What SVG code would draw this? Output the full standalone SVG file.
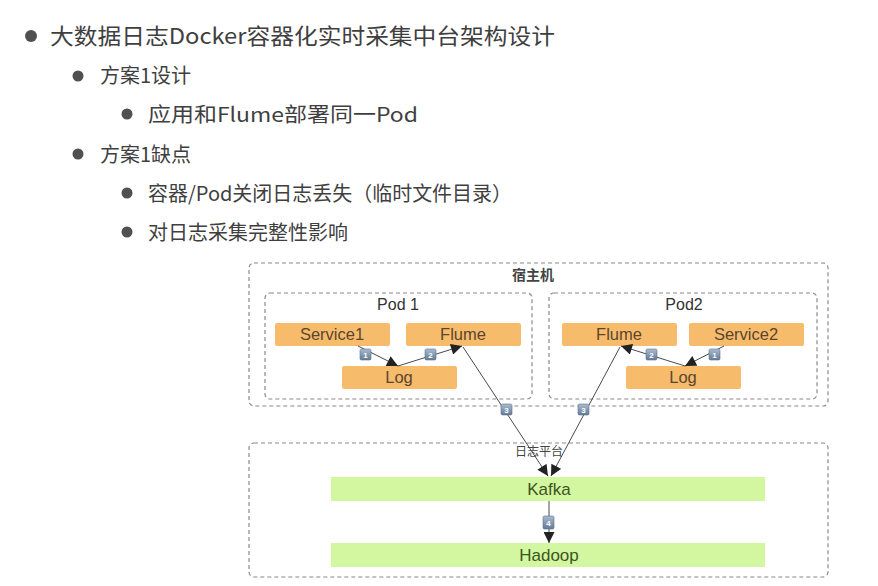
<svg xmlns="http://www.w3.org/2000/svg" width="878" height="586" viewBox="0 0 878 586">
<defs>
<style>
.t{font-family:"Noto Sans CJK SC","Noto Sans",sans-serif;fill:#3f3f3f}
.b{fill:#505050}
.grp{fill:none;stroke:#8a8a8a;stroke-width:1.2;stroke-dasharray:4 3}
.or{fill:#f7bb6c}
.gr{fill:#d3f7a1}
.ot{font-family:"Liberation Sans",Arial,sans-serif;font-size:16.5px;fill:#5a4630;text-anchor:middle}
.gt{font-family:"Liberation Sans",Arial,sans-serif;font-size:17px;fill:#3d5520;text-anchor:middle}
.pt{font-family:"Liberation Sans",Arial,sans-serif;font-size:16px;fill:#333;text-anchor:middle}
.lbl{font-family:"Noto Sans CJK SC","Liberation Sans",sans-serif;fill:#444;text-anchor:middle}
.ln{stroke:#4a4a4a;stroke-width:1;fill:none}
.bd{fill:url(#bg);stroke:#5d7188;stroke-width:0.6}
.bn{font-family:"Liberation Sans",Arial,sans-serif;font-size:8px;fill:#fff;text-anchor:middle;font-weight:bold}
</style>
<linearGradient id="bg" x1="0" y1="0" x2="0" y2="1">
<stop offset="0" stop-color="#a9bbcf"/>
<stop offset="1" stop-color="#647c98"/>
</linearGradient>
<marker id="ah" viewBox="0 0 10 10" refX="10" refY="5" markerWidth="12" markerHeight="11" markerUnits="userSpaceOnUse" orient="auto">
<path d="M0,0 L10,5 L0,10 z" fill="#222"/>
</marker>
</defs>
<rect width="878" height="586" fill="#ffffff"/>

<g id="bullets">
<circle class="b" cx="31" cy="36" r="6"/>
<text class="t" x="50" y="44" font-size="22" textLength="505" lengthAdjust="spacingAndGlyphs">大数据日志Docker容器化实时采集中台架构设计</text>
<circle class="b" cx="78" cy="76" r="5.5"/>
<text class="t" x="100" y="83" font-size="20">方案1设计</text>
<circle class="b" cx="127" cy="114" r="5.5"/>
<text class="t" x="148" y="122" font-size="20" textLength="270" lengthAdjust="spacingAndGlyphs">应用和Flume部署同一Pod</text>
<circle class="b" cx="78" cy="154" r="5.5"/>
<text class="t" x="100" y="162" font-size="20">方案1缺点</text>
<circle class="b" cx="127" cy="193" r="5.5"/>
<text class="t" x="148" y="201" font-size="20" textLength="364" lengthAdjust="spacingAndGlyphs">容器/Pod关闭日志丢失（临时文件目录）</text>
<circle class="b" cx="127" cy="232" r="5.5"/>
<text class="t" x="148" y="240" font-size="20">对日志采集完整性影响</text>
</g>

<g id="host">
<rect class="grp" x="249" y="263" width="579" height="143" rx="5"/>
<text class="lbl" x="533" y="280" font-size="14" font-weight="bold">宿主机</text>
</g>
<g id="pod1">
<rect class="grp" x="265" y="293" width="267" height="106" rx="5"/>
<text class="pt" x="398" y="310">Pod 1</text>
</g>
<g id="pod2">
<rect class="grp" x="549" y="293" width="268" height="106" rx="5"/>
<text class="pt" x="684" y="310">Pod2</text>
</g>
<g id="platform">
<rect class="grp" x="249" y="443" width="579" height="134" rx="5"/>
<text class="lbl" x="539" y="456" font-size="12">日志平台</text>
</g>

<g id="service1"><rect class="or" x="275" y="323" width="115" height="23" rx="2"/><text class="ot" x="332" y="340">Service1</text></g>
<g id="flume1"><rect class="or" x="406" y="323" width="115" height="23" rx="2"/><text class="ot" x="463" y="340">Flume</text></g>
<g id="log1"><rect class="or" x="342" y="366" width="115" height="23" rx="2"/><text class="ot" x="399" y="383">Log</text></g>
<g id="flume2"><rect class="or" x="562" y="323" width="115" height="23" rx="2"/><text class="ot" x="619" y="340">Flume</text></g>
<g id="service2"><rect class="or" x="689" y="323" width="115" height="23" rx="2"/><text class="ot" x="746" y="340">Service2</text></g>
<g id="log2"><rect class="or" x="626" y="366" width="115" height="23" rx="2"/><text class="ot" x="683" y="383">Log</text></g>
<g id="kafka"><rect class="gr" x="331" y="477" width="434" height="24"/><text class="gt" x="549" y="495">Kafka</text></g>
<g id="hadoop"><rect class="gr" x="331" y="543" width="434" height="24"/><text class="gt" x="549" y="561">Hadoop</text></g>

<g id="connectors">
<path class="ln" d="M358,346 L398,366" marker-end="url(#ah)"/>
<path class="ln" d="M398,366 L462,346" marker-end="url(#ah)"/>
<path class="ln" d="M463,347 L548,476" marker-end="url(#ah)"/>
<path class="ln" d="M620,347 L551,476" marker-end="url(#ah)"/>
<path class="ln" d="M724,346 L685,366" marker-end="url(#ah)"/>
<path class="ln" d="M685,366 L621,346" marker-end="url(#ah)"/>
<path class="ln" d="M549,501 L549,543" marker-end="url(#ah)"/>
<rect class="bd" x="360" y="349" width="11" height="11" rx="1.5"/><text class="bn" x="365.5" y="358">1</text>
<rect class="bd" x="425" y="349" width="11" height="11" rx="1.5"/><text class="bn" x="430.5" y="358">2</text>
<rect class="bd" x="501" y="404" width="11" height="11" rx="1.5"/><text class="bn" x="506.5" y="413">3</text>
<rect class="bd" x="578" y="404" width="11" height="11" rx="1.5"/><text class="bn" x="583.5" y="413">3</text>
<rect class="bd" x="709" y="349" width="11" height="11" rx="1.5"/><text class="bn" x="714.5" y="358">1</text>
<rect class="bd" x="646" y="349" width="11" height="11" rx="1.5"/><text class="bn" x="651.5" y="358">2</text>
<rect class="bd" x="543" y="516" width="11" height="13" rx="1.5"/><text class="bn" x="548.5" y="526">4</text>
</g>
</svg>
